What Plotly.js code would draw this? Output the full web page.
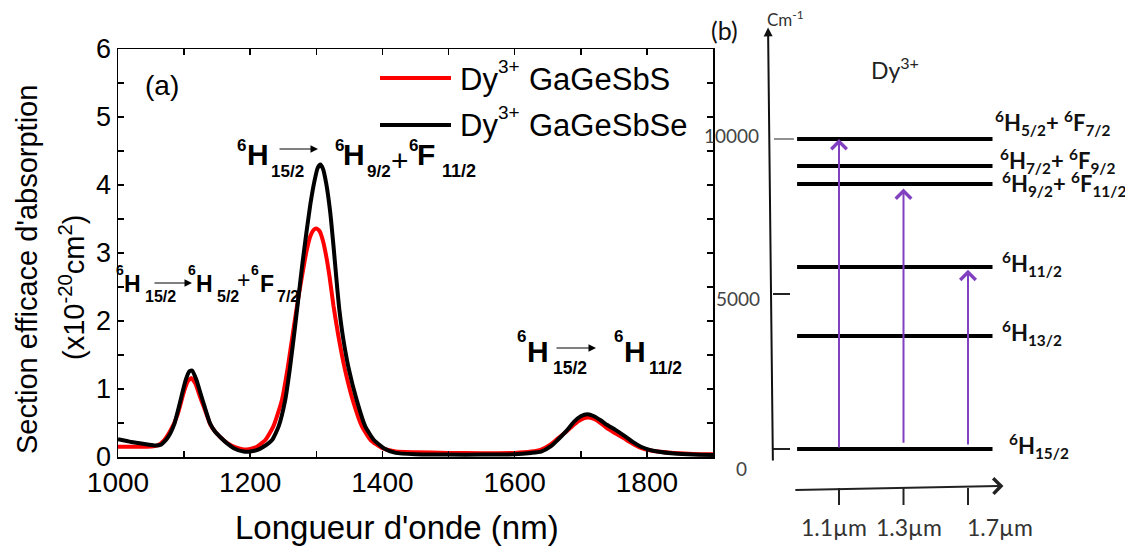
<!DOCTYPE html>
<html><head><meta charset="utf-8">
<script src="https://cdn.plot.ly/plotly-3.0.1.min.js"></script>
<style>html,body{margin:0;padding:0;background:#fff}#chart{width:1125px;height:548px}</style>
</head><body><div id="chart"></div>
<script>
// ---------- Panel (a) data ----------
const wavelengthS = [1000,1030,1050,1060,1070,1080,1090,1100,1106,1111,1117,1125,1132,1140,1148,1156,1166,1178,1190,1200,1210,1223,1235,1248,1257,1265,1272,1279,1285,1291,1296,1300,1305,1310,1315,1320,1326,1333,1343,1355,1369,1382,1400,1420,1450,1500,1550,1600,1625,1640,1655,1665,1678,1690,1700,1710,1720,1730,1740,1753,1766,1778,1791,1804,1816,1841,1870,1900];
const absS = [0.15,0.15,0.155,0.17,0.25,0.40,0.62,0.97,1.12,1.16,1.08,0.86,0.68,0.47,0.36,0.28,0.20,0.14,0.11,0.12,0.15,0.25,0.45,0.84,1.33,1.85,2.30,2.70,3.02,3.25,3.34,3.36,3.32,3.18,2.95,2.65,2.22,1.80,1.30,0.84,0.45,0.25,0.13,0.08,0.07,0.06,0.055,0.06,0.08,0.11,0.19,0.27,0.37,0.48,0.55,0.58,0.56,0.50,0.42,0.345,0.27,0.20,0.135,0.10,0.08,0.06,0.045,0.04];
const wavelengthSe = [1000,1020,1040,1055,1065,1075,1085,1095,1102,1108,1112,1118,1125,1131,1139,1147,1155,1165,1175,1190,1200,1210,1220,1233,1243,1253,1260,1267,1273,1279,1285,1291,1297,1302,1306,1310,1315,1321,1326,1331,1335,1341,1349,1361,1374,1387,1402,1420,1450,1500,1550,1600,1625,1640,1655,1665,1678,1690,1700,1710,1720,1730,1740,1753,1766,1778,1791,1804,1816,1841,1870,1900];
const absSe = [0.26,0.22,0.19,0.17,0.18,0.28,0.48,0.85,1.12,1.26,1.27,1.15,0.93,0.74,0.50,0.37,0.29,0.20,0.13,0.08,0.08,0.10,0.15,0.25,0.45,0.84,1.30,1.85,2.35,2.85,3.30,3.72,4.05,4.25,4.30,4.24,4.02,3.60,3.10,2.55,2.15,1.72,1.30,0.84,0.45,0.25,0.13,0.06,0.04,0.035,0.035,0.04,0.06,0.08,0.16,0.25,0.38,0.52,0.60,0.63,0.60,0.54,0.47,0.395,0.31,0.225,0.15,0.105,0.08,0.05,0.035,0.03];
const seriesNames = ['GaGeSbS', 'GaGeSbSe'];
const seriesColors = ['#ff0000', '#000000'];

// ---------- Panel (b) data ----------
const levelNames = ['<sup>6</sup>H<sub>5/2</sub>+ <sup>6</sup>F<sub>7/2</sub>', '<sup>6</sup>H<sub>7/2</sub>+ <sup>6</sup>F<sub>9/2</sub>', '<sup>6</sup>H<sub>9/2</sub>+ <sup>6</sup>F<sub>11/2</sub>', '<sup>6</sup>H<sub>11/2</sub>', '<sup>6</sup>H<sub>13/2</sub>', '<sup>6</sup>H<sub>15/2</sub>'];
const levelEnergy = [10000, 9130, 8550, 5870, 3645, 0];
const transPos = [1, 2, 3];
const transLabels = ['1.1µm', '1.3µm', '1.7µm'];
const transFrom = [0, 150, 100];
const transTo = [10000, 8400, 5780];
const energyTickVals = [10000, 5000, 0];
const energyTickText = ['10000', '5000', '0'];

// ---------- geometry ----------
const W = 1125, H = 548;
const PX = x => x / W, PY = y => 1 - y / H;
const A = {x0: 118, x1: 713, y0: 49, y1: 457};
const B = {x1px: 839, xs: 64.5, y0px: 449, ys: 0.031, xr: [-1.2, 4.5], yr: [-2600, 14000]};
const bxPx = v => B.x1px + (v - 1) * B.xs;
const byPx = v => B.y0px - v * B.ys;
const ARIAL = '"Liberation Sans", Arial, sans-serif';
const LATO = 'Lato, "Open Sans", sans-serif';
const purple = '#8040c0';

const traces = [
  {x: wavelengthS, y: absS, type: 'scatter', mode: 'lines', line: {color: seriesColors[0], width: 4, shape: 'spline', smoothing: 0.5}, hoverinfo: 'skip', xaxis: 'x', yaxis: 'y', name: seriesNames[0]},
  {x: wavelengthSe, y: absSe, type: 'scatter', mode: 'lines', line: {color: seriesColors[1], width: 4, shape: 'spline', smoothing: 0.5}, hoverinfo: 'skip', xaxis: 'x', yaxis: 'y', name: seriesNames[1]}
];
// energy levels
const lx = [], ly = [];
levelEnergy.forEach(e => { lx.push(0.35, 3.38, null); ly.push(e, e, null); });
traces.push({x: lx, y: ly, type: 'scatter', mode: 'lines', line: {color: '#000', width: 4}, hoverinfo: 'skip', xaxis: 'x2', yaxis: 'y2', connectgaps: false});

const annotations = [];
const shapes = [];

function rich(pieces, fam, color, ascDesc) {
  pieces.forEach(p => {
    const txt = p.bold ? '<b>' + p.t + '</b>' : p.t;
    annotations.push({xref: 'paper', yref: 'paper', x: PX(p.x), y: PY(p.base - ascDesc * p.size), xanchor: 'left', yanchor: 'middle', text: txt, showarrow: false, borderpad: 0, font: {family: fam, size: p.size, color: color}});
  });
}
function pArrow(x0, x1, y) {
  annotations.push({xref: 'paper', yref: 'paper', x: PX(x1), y: PY(y), ax: x0 - x1, ay: 0, text: '', showarrow: true, arrowhead: 2, arrowsize: 1.5, arrowwidth: 1, arrowcolor: '#000', standoff: 0, startstandoff: 0});
}
function note(x, y, text, font, extra) {
  annotations.push(Object.assign({xref: 'paper', yref: 'paper', x: PX(x), y: PY(y), xanchor: 'center', yanchor: 'middle', text: text, showarrow: false, font: font}, extra || {}));
}
const AD = 0.3465;
// label 1
rich([
  {t: '6', x: 236, base: 151, size: 17, bold: true},
  {t: 'H', x: 246, base: 165, size: 30, bold: true},
  {t: '15/2', x: 270, base: 177, size: 17, bold: true},
  {t: '6', x: 334, base: 151, size: 17, bold: true},
  {t: 'H', x: 342, base: 165, size: 30, bold: true},
  {t: '9/2', x: 366, base: 177, size: 17, bold: true},
  {t: '+', x: 390, base: 171, size: 30},
  {t: '6', x: 408, base: 151, size: 17, bold: true},
  {t: 'F', x: 416, base: 165, size: 30, bold: true},
  {t: '11/2', x: 441, base: 177, size: 18, bold: true}
], ARIAL, '#000', AD);
pArrow(278, 318, 149);
// label 2
rich([
  {t: '6', x: 115, base: 275, size: 14, bold: true},
  {t: 'H', x: 123, base: 292, size: 23, bold: true},
  {t: '15/2', x: 144, base: 302, size: 16, bold: true},
  {t: '6', x: 187, base: 275, size: 14, bold: true},
  {t: 'H', x: 195, base: 292, size: 23, bold: true},
  {t: '5/2', x: 216, base: 302, size: 16, bold: true},
  {t: '+', x: 236, base: 288, size: 23},
  {t: '6', x: 250, base: 275, size: 14, bold: true},
  {t: 'F', x: 259, base: 292, size: 23, bold: true},
  {t: '7/2', x: 276, base: 302, size: 16, bold: true}
], ARIAL, '#000', AD);
pArrow(153, 192, 283);
// label 3
rich([
  {t: '6', x: 516, base: 342, size: 17, bold: true},
  {t: 'H', x: 526, base: 362, size: 30, bold: true},
  {t: '15/2', x: 552, base: 374, size: 17.5, bold: true},
  {t: '6', x: 613, base: 342, size: 17, bold: true},
  {t: 'H', x: 623, base: 362, size: 30, bold: true},
  {t: '11/2', x: 648, base: 374, size: 17.5, bold: true}
], ARIAL, '#000', AD);
pArrow(555, 596, 348);
// (a)
note(162, 85, '(a)', {family: ARIAL, size: 28, color: '#000'});
// legend (custom)
const legendRows = [{line: 78, base: 90, sup: 73}, {line: 125, base: 136, sup: 119}];
legendRows.forEach((r, i) => {
  shapes.push({type: 'line', xref: 'paper', yref: 'paper', x0: PX(380), x1: PX(451), y0: PY(r.line), y1: PY(r.line), line: {color: seriesColors[i], width: 4}});
  rich([
    {t: 'Dy', x: 459, base: r.base, size: 31},
    {t: '3+', x: 497, base: r.sup, size: 19},
    {t: seriesNames[i], x: 528, base: r.base, size: 31}
  ], ARIAL, '#000', AD);
});
// axis titles panel a
note(27, 270, "Section efficace d'absorption", {family: ARIAL, size: 29, color: '#000'}, {textangle: -90});
note(72, 288, '(x10<sup>-20</sup>cm<sup>2</sup>)', {family: ARIAL, size: 29, color: '#000'}, {textangle: -90});
note(397, 527, "Longueur d'onde (nm)", {family: ARIAL, size: 33, color: '#000'});

// ---------- Panel (b) decorations ----------
const dataNote = (o) => annotations.push(Object.assign({xref: 'x2', yref: 'y2', xanchor: 'center', yanchor: 'middle', showarrow: false}, o));
// vertical energy axis
annotations.push({xref: 'x2', yref: 'y2', axref: 'x2', ayref: 'y2', x: -0.10, y: 13600, ax: -0.025, ay: -420, text: '', showarrow: true, arrowhead: 2, arrowsize: 0.9, arrowwidth: 2, arrowcolor: '#111', standoff: 0, startstandoff: 0});
// energy ticks + labels
const tickSpan = [[-0.008, 0.30, 1], [-0.023, 0.24, 2], [-0.023, 0.24, 2]];
const tickLabelPos = [{x: -0.66, ys: 4}, {x: -0.57, ys: -4}, {x: -0.51, ys: -19}];
energyTickVals.forEach((v, i) => {
  shapes.push({type: 'line', xref: 'x2', yref: 'y2', x0: tickSpan[i][0], x1: tickSpan[i][1], y0: v, y1: v, line: {color: '#222', width: tickSpan[i][2]}});
  dataNote({x: tickLabelPos[i].x, y: v, yshift: tickLabelPos[i].ys, text: energyTickText[i], font: {family: LATO, size: 19, color: '#444'}});
});
// level labels
const lvlShift = [{xs: -7, ys: 16}, {xs: -2, ys: 5}, {xs: 0, ys: 0}, {xs: 0, ys: 3}, {xs: 0, ys: 3}, {xs: 7, ys: 3}];
levelNames.forEach((n, i) => {
  dataNote({x: 3.5, y: levelEnergy[i], xshift: lvlShift[i].xs, yshift: lvlShift[i].ys, xanchor: 'left', text: '<b>' + n + '</b>', font: {family: LATO, size: 22, color: '#111'}});
});
// transitions (purple arrows)
transPos.forEach((p, i) => {
  annotations.push({xref: 'x2', yref: 'y2', axref: 'x2', ayref: 'y2', x: p, y: transTo[i], ax: p, ay: transFrom[i], text: '', showarrow: true, arrowhead: 4, arrowsize: 1.5, arrowwidth: 2, arrowcolor: purple, standoff: 0, startstandoff: 0});
});
// bottom wavelength arrow + ticks + labels
annotations.push({xref: 'x2', yref: 'y2', axref: 'x2', ayref: 'y2', x: 3.55, y: -1190, ax: 0.30, ay: -1320, text: '', showarrow: true, arrowhead: 4, arrowsize: 1.5, arrowwidth: 2, arrowcolor: '#222', standoff: 0, startstandoff: 0});
const labelShift = [-5, 5, 32];
transPos.forEach((p, i) => {
  shapes.push({type: 'line', xref: 'x2', yref: 'y2', x0: p, x1: p, y0: -1258, y1: -1806, line: {color: '#222', width: 2}});
  dataNote({x: p, y: -2516, xshift: labelShift[i], text: transLabels[i], font: {family: LATO, size: 23, color: '#333'}});
});
// (b), Cm-1, Dy3+
dataNote({x: (724 - B.x1px) / B.xs + 1, y: (B.y0px - 30) / B.ys, text: '(b)', font: {family: LATO, size: 25, color: '#111'}});
dataNote({x: (765 - B.x1px) / B.xs + 1, y: (B.y0px - 19) / B.ys, xanchor: 'left', text: 'Cm<sup>-1</sup>', font: {family: LATO, size: 17, color: '#333'}});
dataNote({x: (869 - B.x1px) / B.xs + 1, y: (B.y0px - 68) / B.ys, xanchor: 'left', text: 'Dy<sup>3+</sup>', font: {family: LATO, size: 23, color: '#222'}});

const axCommon = {showline: true, linecolor: '#000', linewidth: 1.5, mirror: 'ticks', ticks: 'inside', ticklen: 6, tickwidth: 1.5, tickcolor: '#000', showgrid: false, zeroline: false, fixedrange: true};
const layout = {
  width: W, height: H, margin: {l: 0, r: 0, t: 0, b: 0},
  paper_bgcolor: '#fff', plot_bgcolor: 'rgba(0,0,0,0)', showlegend: false,
  xaxis: Object.assign({}, axCommon, {domain: [PX(A.x0), PX(A.x1)], range: [1000, 1900], tick0: 1000, dtick: 200, anchor: 'y',
    minor: {dtick: 100, ticks: 'inside', ticklen: 6, tickwidth: 1.5, tickcolor: '#000', showgrid: false},
    tickfont: {family: ARIAL, size: 28, color: '#000'}}),
  yaxis: Object.assign({}, axCommon, {domain: [PY(A.y1), PY(A.y0)], range: [0, 6], tick0: 0, dtick: 1, anchor: 'x',
    minor: {dtick: 0.5, ticks: 'inside', ticklen: 6, tickwidth: 1.5, tickcolor: '#000', showgrid: false},
    tickfont: {family: ARIAL, size: 27, color: '#000'}}),
  xaxis2: {domain: [PX(bxPx(B.xr[0])), PX(bxPx(B.xr[1]))], range: B.xr, visible: false, anchor: 'y2', fixedrange: true},
  yaxis2: {domain: [PY(byPx(B.yr[0])), PY(byPx(B.yr[1]))], range: B.yr, visible: false, anchor: 'x2', fixedrange: true},
  annotations: annotations, shapes: shapes
};
Plotly.newPlot('chart', traces, layout, {staticPlot: true, displayModeBar: false});
</script></body></html>
